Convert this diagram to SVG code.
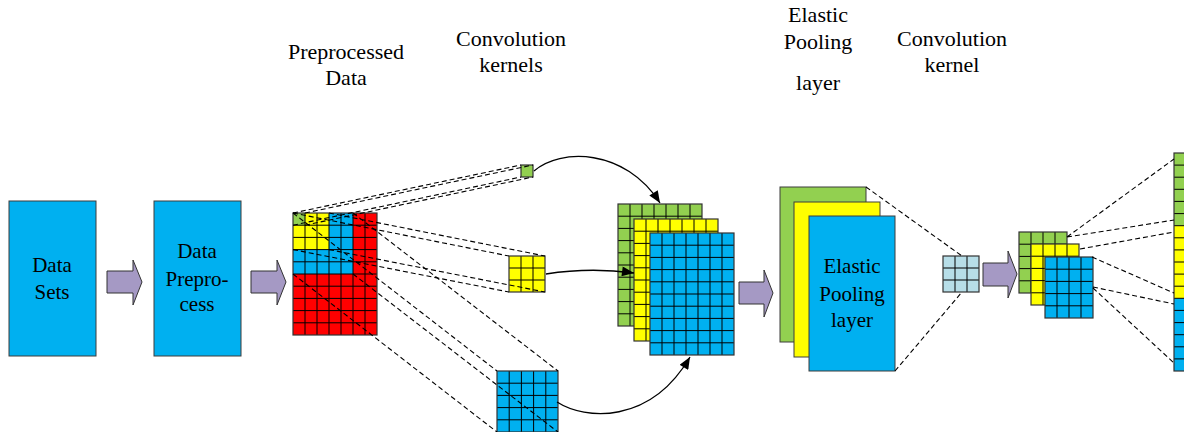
<svg xmlns="http://www.w3.org/2000/svg" xmlns:xlink="http://www.w3.org/1999/xlink" width="1184" height="432" viewBox="0 0 1184 432">
  <style>
    .lbl { font-size: 21px; fill: #000; text-anchor: middle; }
    .head { font-size: 22px; }
    .box { stroke: #3c3c3c; stroke-width: 1; }
    .blue { fill: #00B0F0; }
    .green { fill: #92D050; }
    .yellow { fill: #FFFF00; }
    .red { fill: #FF0000; }
    .ice { fill: #B7DEE8; }
    .grid { fill: none; stroke: #000; stroke-width: 1; }
    .frame { fill: none; stroke: #333; stroke-width: 1.2; }
    .dash { fill: none; stroke: #000; stroke-width: 1.1; stroke-dasharray: 5 3; }
    .curve { fill: none; stroke: #000; stroke-width: 1.3; }
    .flow { fill: #A599C4; stroke: #333; stroke-width: 1; }
  </style>
  <defs>
    <marker id="head" viewBox="0 0 12 10" refX="12" refY="5" markerWidth="13" markerHeight="10" markerUnits="userSpaceOnUse" orient="auto">
      <path d="M0,0 L12,5 L0,10 z" fill="#000"/>
    </marker>
    <!-- 7 x 10 cell grid, 84 x 122 -->
    <path id="g7x10" class="grid" d="M12 0V122M24 0V122M36 0V122M48 0V122M60 0V122M72 0V122M0 12.2H84M0 24.4H84M0 36.6H84M0 48.8H84M0 61H84M0 73.2H84M0 85.4H84M0 97.6H84M0 109.8H84"/>
    <!-- 4 x 5 cell grid, 48 x 61 -->
    <path id="g4x5" class="grid" d="M12 0V61M24 0V61M36 0V61M0 12.2H48M0 24.4H48M0 36.6H48M0 48.8H48"/>
    <!-- 3 x 3 cell grid, 36 x 36 -->
    <path id="g3x3" class="grid" d="M12 0V36M24 0V36M0 12H36M0 24H36"/>
    <!-- 5 x 5 cell grid, 61 x 61 -->
    <path id="g5x5" class="grid" d="M12.2 0V61M24.4 0V61M36.6 0V61M48.8 0V61M0 12.2H61M0 24.4H61M0 36.6H61M0 48.8H61"/>
  </defs>

  <rect width="1184" height="432" fill="#fff"/>

  <g font-family="'Liberation Serif', 'DejaVu Serif', serif">
  <!-- headings -->
  <g id="headings">
    <text class="lbl head" x="346" y="59">Preprocessed</text>
    <text class="lbl head" x="346" y="85">Data</text>
    <text class="lbl head" x="511" y="46">Convolution</text>
    <text class="lbl head" x="511" y="72">kernels</text>
    <text class="lbl head" x="818" y="22">Elastic</text>
    <text class="lbl head" x="818" y="49">Pooling</text>
    <text class="lbl head" x="818" y="90">layer</text>
    <text class="lbl head" x="952" y="46">Convolution</text>
    <text class="lbl head" x="952" y="72">kernel</text>
  </g>

  <!-- raw data -->
  <g id="data-sets">
    <rect class="box blue" x="9" y="201" width="87" height="155"/>
    <text class="lbl" x="52" y="272">Data</text>
    <text class="lbl" x="52" y="299">Sets</text>
  </g>

  <g id="data-preprocess">
    <rect class="box blue" x="154" y="201" width="87" height="155"/>
    <text class="lbl" x="197" y="258">Data</text>
    <text class="lbl" x="197" y="286">Prepro-</text>
    <text class="lbl" x="197" y="311">cess</text>
  </g>

  <!-- preprocessed data matrix with kernel footprints -->
  <g id="preprocessed-data" transform="translate(293,213)">
    <rect class="red" width="84" height="122"/>
    <rect class="blue" width="60" height="61"/>
    <rect class="yellow" width="36" height="36.6"/>
    <rect class="green" width="12" height="12.2"/>
    <use xlink:href="#g7x10"/>
    <rect class="frame" width="84" height="122"/>
  </g>

  <!-- convolution kernels -->
  <g id="kernel-green" transform="translate(521,165)">
    <rect class="green" width="12" height="12"/>
    <rect class="frame" width="12" height="12"/>
  </g>
  <g id="kernel-yellow" transform="translate(509,256)">
    <rect class="yellow" width="36" height="36"/>
    <use xlink:href="#g3x3"/>
    <rect class="frame" width="36" height="36"/>
  </g>
  <g id="kernel-blue" transform="translate(497,371)">
    <rect class="blue" width="61" height="61"/>
    <use xlink:href="#g5x5"/>
    <rect class="frame" width="61" height="61"/>
  </g>

  <!-- convolved feature maps -->
  <g id="feature-maps">
    <g transform="translate(618,204)">
      <rect class="green" width="84" height="122"/>
      <use xlink:href="#g7x10"/>
      <rect class="frame" width="84" height="122"/>
    </g>
    <g transform="translate(634,219)">
      <rect class="yellow" width="84" height="122"/>
      <use xlink:href="#g7x10"/>
      <rect class="frame" width="84" height="122"/>
    </g>
    <g transform="translate(650,233)">
      <rect class="blue" width="84" height="122"/>
      <use xlink:href="#g7x10"/>
      <rect class="frame" width="84" height="122"/>
    </g>
  </g>

  <!-- elastic pooling layer -->
  <g id="elastic-pooling">
    <rect class="box green" x="780" y="187" width="86" height="155"/>
    <rect class="box yellow" x="794" y="202" width="86" height="155"/>
    <rect class="box blue" x="809" y="216" width="86" height="155"/>
    <text class="lbl" x="852" y="273">Elastic</text>
    <text class="lbl" x="852" y="301">Pooling</text>
    <text class="lbl" x="852" y="327">layer</text>
  </g>
  </g>

  <!-- second convolution kernel -->
  <g id="kernel-second" transform="translate(943,256)">
    <rect class="ice" width="36" height="36"/>
    <use xlink:href="#g3x3"/>
    <rect class="frame" width="36" height="36"/>
  </g>

  <!-- second feature maps -->
  <g id="feature-maps-second">
    <g transform="translate(1019,232)">
      <rect class="green" width="48" height="61"/>
      <use xlink:href="#g4x5"/>
      <rect class="frame" width="48" height="61"/>
    </g>
    <g transform="translate(1031,244)">
      <rect class="yellow" width="48" height="61"/>
      <use xlink:href="#g4x5"/>
      <rect class="frame" width="48" height="61"/>
    </g>
    <g transform="translate(1045,257)">
      <rect class="blue" width="48" height="61"/>
      <use xlink:href="#g4x5"/>
      <rect class="frame" width="48" height="61"/>
    </g>
  </g>

  <!-- flattened vector -->
  <g id="flatten" transform="translate(1174,153)">
    <rect class="green" width="12" height="72.7"/>
    <rect class="yellow" y="72.7" width="12" height="72.6"/>
    <rect class="blue" y="145.3" width="12" height="72.7"/>
    <path class="grid" d="M0 12.1H12M0 24.2H12M0 36.3H12M0 48.4H12M0 60.6H12M0 72.7H12M0 84.8H12M0 96.9H12M0 109H12M0 121.1H12M0 133.2H12M0 145.3H12M0 157.4H12M0 169.6H12M0 181.7H12M0 193.8H12M0 205.9H12"/>
    <rect class="frame" width="12" height="218"/>
  </g>

  <!-- connectors -->
  <g id="connectors">
    <!-- stage arrows -->
    <polygon class="flow" points="107,271 133,271 133,260 142,282 133,305 133,293 107,293"/>
    <polygon class="flow" points="251,271 277,271 277,260 286,282 277,305 277,293 251,293"/>
    <polygon class="flow" points="739,282 764,282 764,270 773,293 764,317 764,304 739,304"/>
    <polygon class="flow" points="983,263 1008,263 1008,251 1017,274 1008,298 1008,286 983,286"/>

    <!-- kernel footprints -->
    <path class="dash" d="M293,213 L521,165 M305,213 L533,165 M293,225.2 L521,177 M305,225.2 L533,177"/>
    <path class="dash" d="M293,213 L509,256 M329,213 L545,256 M293,249.6 L509,292 M329,249.6 L545,292"/>
    <path class="dash" d="M293,213 L497,371 M353,213 L558,371 M293,274 L497,432 M353,274 L558,432"/>

    <!-- convolution results -->
    <path class="curve" d="M534,171 C560,148 625,148 660,203" marker-end="url(#head)"/>
    <path class="curve" d="M546,274 Q590,267 634,273" marker-end="url(#head)"/>
    <path class="curve" d="M557,402 C585,420 650,425 690,357" marker-end="url(#head)"/>

    <!-- pooling to kernel -->
    <path class="dash" d="M866,187 L962,256 M895,371 L962,292"/>

    <!-- flattening -->
    <path class="dash" d="M1067,237 L1174,159 M1067,237 L1174,220 M1080,249 L1174,232 M1092,257 L1174,293 M1093,287 L1174,304 M1093,288 L1174,363"/>
  </g>
</svg>
